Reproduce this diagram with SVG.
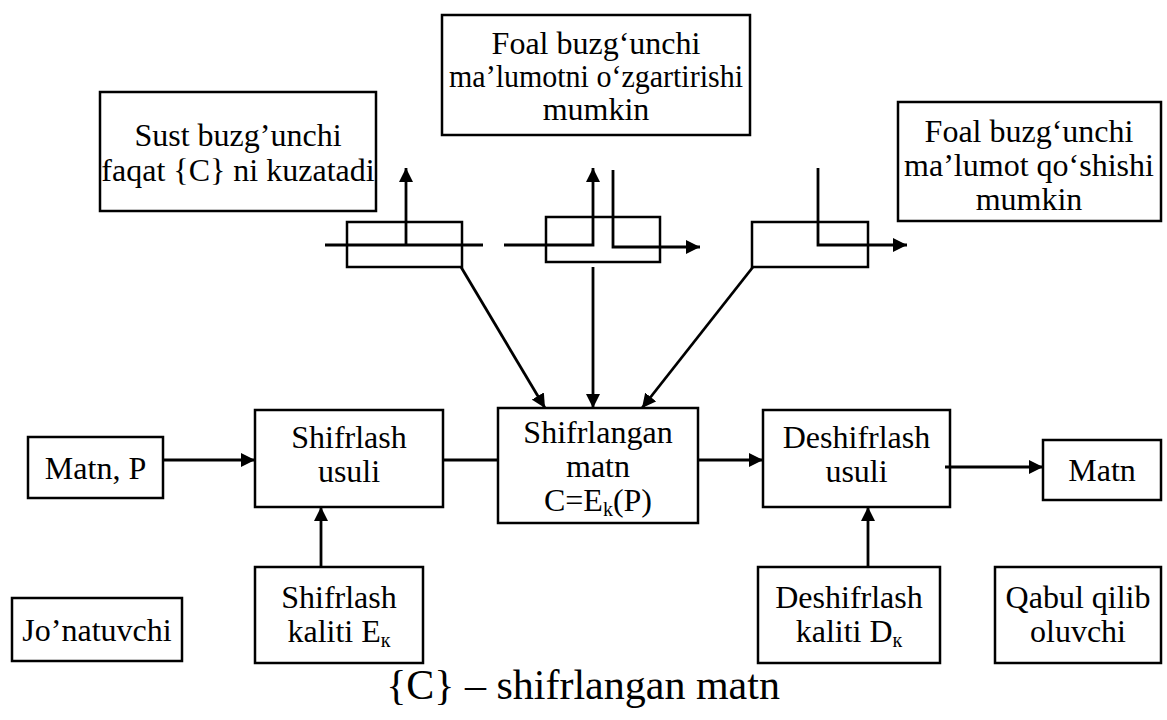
<svg xmlns="http://www.w3.org/2000/svg" width="1167" height="720" viewBox="0 0 1167 720">
<style>
.box{fill:#fff;stroke:#000;stroke-width:2.5}
.t{font-family:"Liberation Serif","Times New Roman",serif;font-size:32px;fill:#000;text-anchor:middle}
.cap{font-family:"Liberation Serif","Times New Roman",serif;font-size:42px;fill:#000;text-anchor:middle}
.ln{fill:none;stroke:#000;stroke-width:2.8}
.sub{font-size:20px}
</style>
<defs>
<marker id="ah" markerUnits="userSpaceOnUse" markerWidth="14" markerHeight="14" refX="14" refY="7" orient="auto">
<path d="M0,0 L14,7 L0,14 z" fill="#000"/>
</marker>
</defs>
<rect width="1167" height="720" fill="#fff"/>

<g id="passive">
<rect class="box" x="100" y="92" width="276" height="119"/>
<text class="t" x="238" y="146">Sust buzg’unchi</text>
<text class="t" x="238" y="181">faqat {C} ni kuzatadi</text>
</g>
<g id="active-modify">
<rect class="box" x="442" y="15" width="308" height="120"/>
<text class="t" x="596" y="54">Foal buzg‘unchi</text>
<text class="t" x="596" y="87" textLength="294" lengthAdjust="spacingAndGlyphs">ma’lumotni o‘zgartirishi</text>
<text class="t" x="596" y="120">mumkin</text>
</g>
<g id="active-insert">
<rect class="box" x="898" y="102" width="263" height="119"/>
<text class="t" x="1029" y="142">Foal buzg‘unchi</text>
<text class="t" x="1029" y="176">ma’lumot qo‘shishi</text>
<text class="t" x="1029" y="210">mumkin</text>
</g>
<g id="tap1"><rect class="box" x="347" y="222" width="115" height="45"/></g>
<g id="tap2"><rect class="box" x="546" y="217" width="114" height="45"/></g>
<g id="tap3"><rect class="box" x="752" y="222" width="116" height="45"/></g>

<g id="plaintext">
<rect class="box" x="28" y="437" width="135" height="61"/>
<text class="t" x="95.5" y="479">Matn, P</text>
</g>
<g id="encrypt">
<rect class="box" x="255" y="410" width="188" height="97"/>
<text class="t" x="349" y="448">Shifrlash</text>
<text class="t" x="349" y="482">usuli</text>
</g>
<g id="ciphertext">
<rect class="box" x="498" y="408" width="200" height="115"/>
<text class="t" x="598" y="443">Shifrlangan</text>
<text class="t" x="598" y="477">matn</text>
<text class="t" x="598" y="511">C=E<tspan class="sub" dy="5">k</tspan><tspan dy="-5">(P)</tspan></text>
</g>
<g id="decrypt">
<rect class="box" x="763" y="410" width="187" height="97"/>
<text class="t" x="856.5" y="448">Deshifrlash</text>
<text class="t" x="856.5" y="482">usuli</text>
</g>
<g id="output">
<rect class="box" x="1043" y="440" width="118" height="60"/>
<text class="t" x="1102" y="481">Matn</text>
</g>
<g id="sender">
<rect class="box" x="12" y="598" width="170" height="63"/>
<text class="t" x="97" y="641">Jo’natuvchi</text>
</g>
<g id="enc-key">
<rect class="box" x="255" y="567" width="168" height="96"/>
<text class="t" x="339" y="608">Shifrlash</text>
<text class="t" x="339" y="642">kaliti E<tspan class="sub" dy="5">к</tspan></text>
</g>
<g id="dec-key">
<rect class="box" x="758" y="567" width="182" height="96"/>
<text class="t" x="849" y="608">Deshifrlash</text>
<text class="t" x="849" y="642">kaliti D<tspan class="sub" dy="5">к</tspan></text>
</g>
<g id="receiver">
<rect class="box" x="995" y="567" width="166" height="96"/>
<text class="t" x="1078" y="608">Qabul qilib</text>
<text class="t" x="1078" y="642">oluvchi</text>
</g>

<g id="connectors">
<line class="ln" x1="325" y1="245" x2="483" y2="245"/>
<line class="ln" x1="406" y1="245" x2="406" y2="168" marker-end="url(#ah)"/>
<polyline class="ln" points="504,245 593,245 593,168" marker-end="url(#ah)"/>
<polyline class="ln" points="613,170 613,247 700,247" marker-end="url(#ah)"/>
<polyline class="ln" points="818,168 818,245 907,245" marker-end="url(#ah)"/>
<line class="ln" x1="461" y1="267" x2="545" y2="408" marker-end="url(#ah)"/>
<line class="ln" x1="593" y1="267" x2="593" y2="408" marker-end="url(#ah)"/>
<line class="ln" x1="753" y1="267" x2="642" y2="408" marker-end="url(#ah)"/>
<line class="ln" x1="163" y1="460" x2="255" y2="460" marker-end="url(#ah)"/>
<line class="ln" x1="443" y1="460" x2="498" y2="460"/>
<line class="ln" x1="698" y1="460" x2="763" y2="460" marker-end="url(#ah)"/>
<line class="ln" x1="945" y1="467" x2="1043" y2="467" marker-end="url(#ah)"/>
<line class="ln" x1="321" y1="567" x2="321" y2="507" marker-end="url(#ah)"/>
<line class="ln" x1="868" y1="567" x2="868" y2="507" marker-end="url(#ah)"/>
</g>

<text class="cap" x="583" y="699">{C} – shifrlangan matn</text>
</svg>
